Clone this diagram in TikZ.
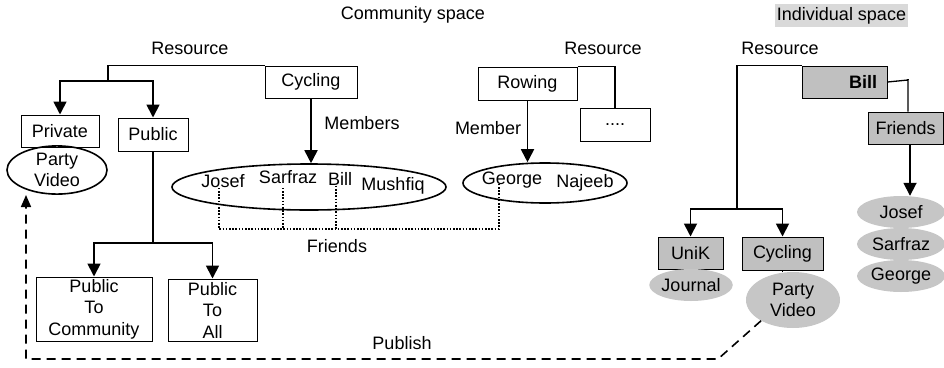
\documentclass[tikz,border=0pt]{standalone}
\usepackage{fontspec}
\setmainfont{Liberation Sans}
\usetikzlibrary{arrows.meta,shapes.geometric}
\definecolor{gfill}{HTML}{C0C0C0}
\definecolor{efill}{HTML}{C6C6C6}
\definecolor{lbl}{HTML}{D9D9D9}
\tikzset{
  every node/.style={font=\fontsize{18}{21.5}\selectfont, inner sep=0pt, align=center},
  boxn/.style={draw, line width=1pt},
  gboxn/.style={boxn, fill=gfill},
  elln/.style={draw, ellipse, line width=1.6pt},
  gelln/.style={ellipse, fill=efill},
  conn/.style={line width=1.8pt},
  arr/.style={conn, -{Triangle[length=13pt,width=13pt]}},
  pubarr/.style={line width=1.6pt, dash pattern=on 9pt off 6pt, -{Triangle[length=12pt,width=10pt]}},
  dotl/.style={line width=1.3pt, dash pattern=on 1.6pt off 1.6pt},
}
\begin{document}
\begin{tikzpicture}[x=1pt,y=-1pt]
\useasboundingbox (0,0) rectangle (944,367);

% headings
\node (hcom) at (413,15) {Community space};
\node[fill=lbl, minimum width=133pt, minimum height=23pt] (hind) at (841.5,15.5) {Individual space};
\node (res1) at (190,48) {Resource};
\node (res2) at (603,48) {Resource};
\node (res3) at (780,48) {Resource};

% community: cycling tree
\node[boxn, minimum width=92pt, minimum height=32pt] (cyc) at (311,82) {Cycling};
\node[boxn, minimum width=78pt, minimum height=32pt] (priv) at (60,131) {Private};
\node[boxn, minimum width=70pt, minimum height=33pt] (pub) at (153,134.5) {Public};
\node[elln, minimum width=100pt, minimum height=45pt] (pvl) at (57,170) {Party\\Video};
\node[boxn, minimum width=116pt, minimum height=64pt] (ptc) at (94,309) {Public\\To\\Community};
\node[boxn, minimum width=89pt, minimum height=62pt] (pta) at (212.5,310) {Public\\To\\All};

\coordinate (j1) at (108,81);
\coordinate (j2) at (153,243);
\draw[conn] (cyc.north west) -| (j1);
\draw[arr] (j1) -| (priv.north);
\draw[arr] (j1) -| (pub.north);
\draw[conn] (pub.south) -- (j2);
\draw[arr] (j2) -| (ptc.north);
\draw[arr] (j2) -| (pta.north);

% members ellipse
\node[elln, minimum width=274pt, minimum height=46pt] (mem) at (309,187) {};
\node (mj) at (223,181) {Josef};
\node (ms) at (288,177) {Sarfraz};
\node (mb) at (340,179) {Bill};
\node (mm) at (393,186) {Mushfiq};
\draw[arr] (cyc.south) -- (cyc.south |- mem.north);
\node (lmem) at (362,123) {Members};

% rowing
\node[boxn, minimum width=99pt, minimum height=33pt] (row) at (527.5,83.5) {Rowing};
\node[boxn, minimum width=70pt, minimum height=33pt] (dots) at (615,124.5) {....};
\draw[conn] (row.north east) -| (dots.north);
\node[elln, minimum width=164pt, minimum height=40pt] (gn) at (545,183) {};
\node (gg) at (512,180) {George};
\node (gnj) at (585,183) {Najeeb};
\draw[arr] (row.south) -- (row.south |- gn.north);
\node (lmem2) at (488,128) {Member};

% friends dotted links
\coordinate (fl) at (0,229);
\draw[dotl] ([xshift=-4pt]mj.south) -- ([xshift=-4pt]mj.south |- fl) -- ([xshift=-13pt]gg.south |- fl) -- ([xshift=-13pt,yshift=4pt]gg.south);
\draw[dotl] ([xshift=-5pt,yshift=-4pt]ms.south) -- ([xshift=-5pt]ms.south |- fl);
\draw[dotl] ([xshift=-4pt]mb.south) -- ([xshift=-4pt]mb.south |- fl);
\node (lfr) at (337,246) {Friends};

% individual space
\node[gboxn, minimum height=32pt, text width=65pt, inner xsep=10pt, align=right] (bill) at (844.5,82) {\textbf{Bill}};
\node[gboxn, minimum width=75pt, minimum height=32pt] (frd) at (905.5,128) {Friends};
\coordinate (bf) at (908,80);
\draw[conn, line width=1.3pt] (bill.east) -- (bf) -- (bf |- frd.north);
\draw[conn, line width=1.3pt] (bf) -- ++(0,-1.5);

\node[gelln, minimum width=88pt, minimum height=32pt] (fj) at (901,212) {Josef};
\node[gelln, minimum width=88pt, minimum height=32pt] (fs) at (901,244) {Sarfraz};
\node[gelln, minimum width=88pt, minimum height=32pt] (fg) at (901,276) {George};
\draw[arr] ([xshift=4.5pt]frd.south) -- ([xshift=4.5pt]frd.south |- fj.north);

\coordinate (j3) at (737,209);
\node[gboxn, minimum width=65pt, minimum height=32pt] (unik) at (690.5,253) {UniK};
\node[gboxn, minimum width=81pt, minimum height=33pt] (cycr) at (782.5,253.5) {Cycling};
\node[gelln, minimum width=82pt, minimum height=32pt] (jour) at (691,285) {Journal};
\node[gelln, minimum width=94pt, minimum height=56pt] (pvr) at (793,300) {Party\\Video};
\draw[conn] (bill.north west) -| (j3);
\draw[arr] (j3) -| (unik.north);
\draw[arr] (j3) -| (cycr.north);
\draw[line width=1pt] (cycr.south) -- (cycr.south |- pvr.north);

% publish
\coordinate (pb1) at (718,359);
\coordinate (pb2) at (26,359);
\coordinate (pbtip) at (26,195);
\draw[pubarr] (pvr.213) -- (pb1) -- (pb2) -- (pbtip);
\node (lpub) at (402,343) {Publish};
\end{tikzpicture}
\end{document}
